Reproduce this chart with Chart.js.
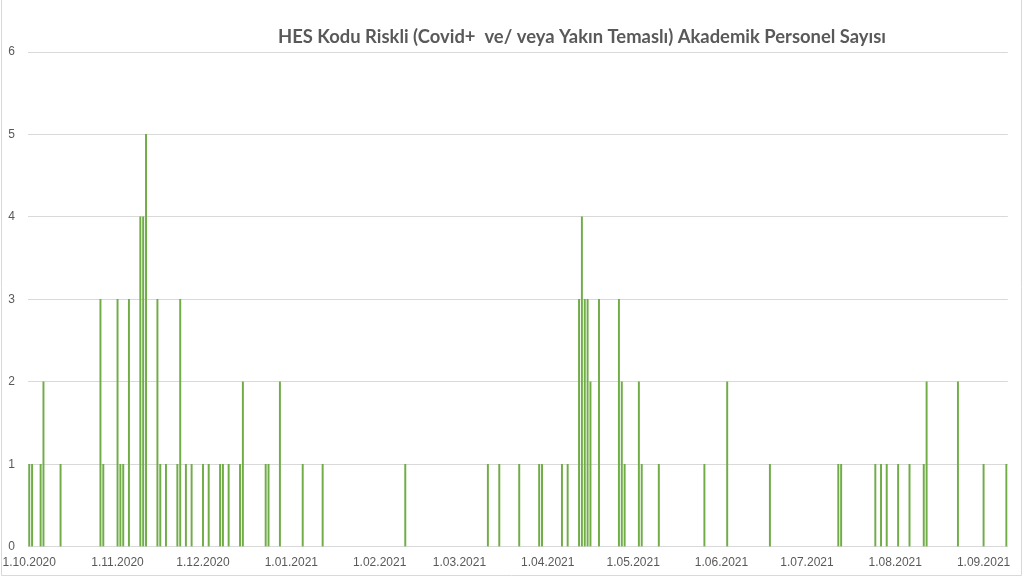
<!DOCTYPE html>
<html><head><meta charset="utf-8">
<script src="https://cdn.jsdelivr.net/npm/chart.js@4/dist/chart.umd.min.js"></script>
<style>html,body{margin:0;padding:0;background:#fff}#wrap{width:1024px;height:580px;position:relative}</style>
</head><body><div id="wrap"><canvas id="c" width="1024" height="580"></canvas></div>
<script>
const chartTitle = "HES Kodu Riskli (Covid+  ve/ veya Yakın Temaslı) Akademik Personel Sayısı";
const dates = [
 "1.10.2020","2.10.2020","5.10.2020","6.10.2020","12.10.2020","26.10.2020","27.10.2020",
 "1.11.2020","2.11.2020","3.11.2020","5.11.2020","9.11.2020","10.11.2020","11.11.2020","15.11.2020","16.11.2020","18.11.2020","22.11.2020","23.11.2020","25.11.2020","27.11.2020",
 "1.12.2020","3.12.2020","7.12.2020","8.12.2020","10.12.2020","14.12.2020","15.12.2020","23.12.2020","24.12.2020","28.12.2020",
 "5.01.2021","12.01.2021","10.02.2021","11.03.2021","15.03.2021","22.03.2021","29.03.2021","30.03.2021",
 "6.04.2021","8.04.2021","12.04.2021","13.04.2021","14.04.2021","15.04.2021","16.04.2021","19.04.2021","26.04.2021","27.04.2021","28.04.2021",
 "3.05.2021","4.05.2021","10.05.2021","26.05.2021","3.06.2021","18.06.2021",
 "12.07.2021","13.07.2021","25.07.2021","27.07.2021","29.07.2021",
 "2.08.2021","6.08.2021","11.08.2021","12.08.2021","23.08.2021","1.09.2021","9.09.2021"
];
const counts = [
 1,1,1,2,1,3,1,
 3,1,1,3,4,4,5,3,1,1,1,3,1,1,
 1,1,1,1,1,1,2,1,1,2,
 1,1,1,1,1,1,1,1,
 1,1,3,4,3,3,2,3,3,2,1,
 2,1,1,1,2,1,
 1,1,1,1,1,
 1,1,1,2,2,1,1
];
const tickLabels = ["1.10.2020","1.11.2020","1.12.2020","1.01.2021","1.02.2021","1.03.2021","1.04.2021","1.05.2021","1.06.2021","1.07.2021","1.08.2021","1.09.2021"];
const yTicks = [0,1,2,3,4,5,6];
const axisFirst = "1.10.2020";
const axisLast = "9.09.2021";

function dayIndex(s){
  const [d,m,y] = s.split('.').map(Number);
  const [d0,m0,y0] = axisFirst.split('.').map(Number);
  return Math.round((Date.UTC(y,m-1,d) - Date.UTC(y0,m0-1,d0)) / 86400000);
}

const framePlugin = {
  id:'frame',
  afterDraw(chart){
    const c = chart.ctx;
    c.save();
    c.strokeStyle = '#D9D9D9'; c.lineWidth = 1;
    c.beginPath();
    c.moveTo(1.5,0); c.lineTo(1.5,575.5); c.lineTo(1021.5,575.5); c.lineTo(1021.5,0);
    c.stroke();
    c.fillStyle = '#595959';
    c.font = 'bold 18.4px Lato';
    c.textAlign = 'center'; c.textBaseline = 'middle';
    c.fillText(chartTitle, 582, 37);
    c.restore();
  }
};

new Chart(document.getElementById('c'), {
  type: 'bar',
  data: { datasets: [{
    data: dates.map((d,i)=>({x: dayIndex(d), y: counts[i]})),
    backgroundColor: '#70AD47', borderWidth: 0, barThickness: 1.3
  }]},
  options: {
    responsive: false, animation: false, events: [], devicePixelRatio: 1,
    layout: { padding: { top: 52, right: 16.2, bottom: 0, left: 0 } },
    plugins: { legend: {display:false}, tooltip: {enabled:false}, title: {display:false} },
    scales: {
      x: {
        type: 'linear', offset: false,
        min: dayIndex(axisFirst) - 0.5, max: dayIndex(axisLast) + 0.5,
        grid: { display: false, drawTicks: false, offset: false },
        border: { display: false },
        afterBuildTicks: s => { s.ticks = tickLabels.map(t => ({ value: dayIndex(t) })); },
        afterFit: s => { s.paddingLeft = 0; s.paddingRight = 0; s.height = 33.3; },
        ticks: { autoSkip: false, maxRotation: 0, minRotation: 0, color: '#595959',
          font: { family: 'Liberation Sans', size: 12 }, padding: 9,
          callback: (v, i) => tickLabels[i] }
      },
      y: {
        min: 0, max: 6,
        afterBuildTicks: s => { s.ticks = yTicks.map(v => ({ value: v })); },
        afterFit: s => { s.width = 27.8; },
        grid: { color: '#D9D9D9', drawTicks: false },
        border: { display: false },
        ticks: { color: '#595959', font: { family: 'Liberation Sans', size: 12 }, padding: 12.8 }
      }
    }
  },
  plugins: [framePlugin]
});
</script></body></html>
